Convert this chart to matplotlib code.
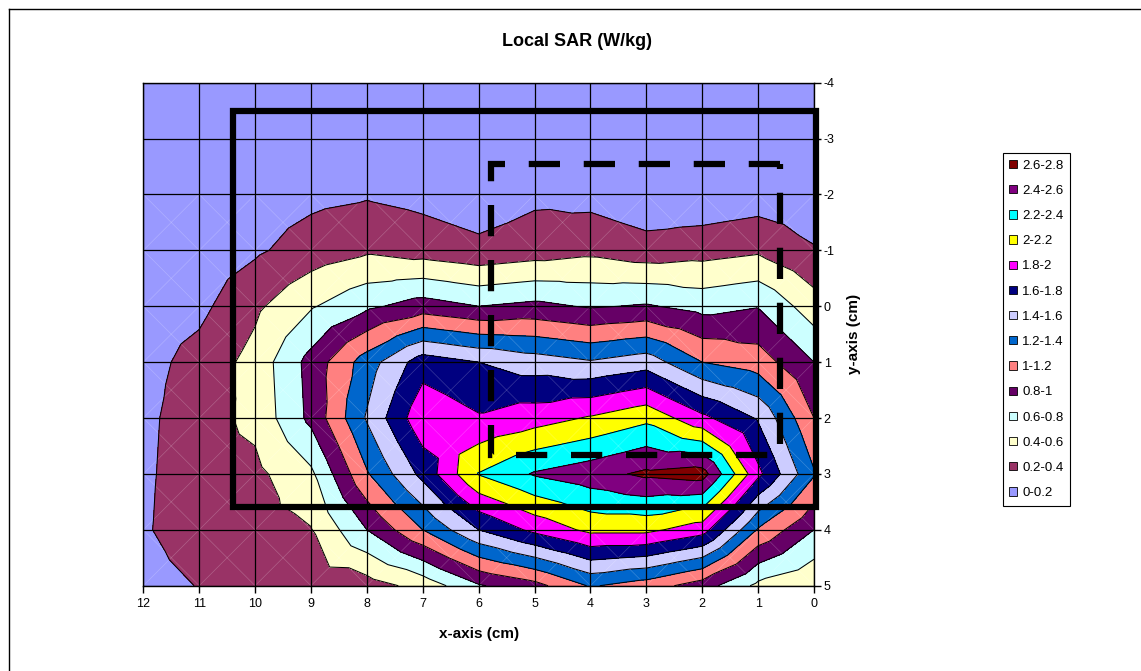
import matplotlib
matplotlib.use("Agg")
import matplotlib.pyplot as plt
import matplotlib.tri as mtri
import numpy as np
from matplotlib.patches import Rectangle, Patch
from matplotlib.collections import LineCollection
from matplotlib.lines import Line2D

plt.rcParams['font.family'] = ['Liberation Sans', 'DejaVu Sans']
plt.rcParams['axes.unicode_minus'] = False

# measured SAR values (W/kg); rows are y = -4..5 cm, columns are x = 0..12 cm
x_cm = np.arange(0, 13)
y_cm = np.arange(-4, 6)
sar = np.array([
    [0.03, 0.03, 0.03, 0.03, 0.04, 0.04, 0.03, 0.04, 0.04, 0.03, 0.03, 0.03, 0.02],
    [0.04, 0.05, 0.04, 0.04, 0.06, 0.07, 0.05, 0.07, 0.08, 0.07, 0.06, 0.05, 0.04],
    [0.07, 0.09, 0.05, 0.05, 0.13, 0.16, 0.08, 0.14, 0.18, 0.15, 0.10, 0.07, 0.06],
    [0.215, 0.37, 0.32, 0.28, 0.35, 0.30, 0.25, 0.31, 0.37, 0.29, 0.17, 0.10, 0.08],
    [0.49, 0.79, 0.73, 0.82, 0.78, 0.85, 0.80, 0.89, 0.76, 0.58, 0.36, 0.15, 0.10],
    [0.80, 1.10, 1.20, 1.51, 1.42, 1.50, 1.60, 1.71, 1.30, 0.87, 0.47, 0.27, 0.13],
    [1.00, 1.58, 1.85, 2.15, 2.02, 1.91, 1.82, 1.95, 1.42, 0.85, 0.45, 0.32, 0.15],
    [1.22, 1.85, 2.69, 2.64, 2.52, 2.42, 2.21, 1.66, 1.18, 0.56, 0.35, 0.33, 0.16],
    [0.80, 1.18, 1.89, 2.05, 2.05, 1.85, 1.60, 1.20, 0.80, 0.39, 0.33, 0.35, 0.17],
    [0.42, 0.55, 0.90, 1.10, 1.22, 0.93, 0.78, 0.47, 0.31, 0.30, 0.28, 0.21, 0.10],
])

levels = np.round(np.arange(0, 2.81, 0.2), 1)
band_colors = ['#9999FF', '#993366', '#FFFFCC', '#CCFFFF', '#660066', '#FF8080',
               '#0066CC', '#CCCCFF', '#000080', '#FF00FF', '#FFFF00', '#00FFFF',
               '#800080', '#800000']
band_labels = [f"{levels[i]:g}-{levels[i + 1]:g}" for i in range(len(band_colors))]

# overlay outlines (cm)
solid_box = (-0.03, -3.5, 10.39, 3.6)    # x0, y0, x1, y1
dashed_box = (0.61, -2.55, 5.78, 2.66)

# Excel-like triangulation: each cell split into 4 triangles around its centre
nx, ny = len(x_cm), len(y_cm)
gx, gy = np.meshgrid(x_cm, y_cm)
px = list(gx.ravel().astype(float))
py = list(gy.ravel().astype(float))
pz = list(sar.ravel())
tris = []
diag_segs = []
for j in range(ny - 1):
    for i in range(nx - 1):
        a = j * nx + i
        b = a + 1
        d = a + nx
        c = d + 1
        corners = [sar[j, i], sar[j, i + 1], sar[j + 1, i + 1], sar[j + 1, i]]
        m = len(px)
        px.append(x_cm[i] + 0.5)
        py.append(y_cm[j] + 0.5)
        pz.append(np.mean(corners))
        tris += [[a, b, m], [b, c, m], [c, d, m], [d, a, m]]
        if y_cm[j] >= -2:
            diag_segs.append([(x_cm[i], y_cm[j]), (x_cm[i + 1], y_cm[j + 1])])
            diag_segs.append([(x_cm[i + 1], y_cm[j]), (x_cm[i], y_cm[j + 1])])
triang = mtri.Triangulation(np.array(px), np.array(py), np.array(tris))
pz = np.array(pz)

W, H = 1141, 671
fig = plt.figure(figsize=(W / 100, H / 100), dpi=100)
ax = fig.add_axes([143.3 / W, 1 - 585.7 / H, (814 - 143.3) / W, (585.7 - 82.7) / H])

ax.tricontourf(triang, pz, levels=levels, colors=band_colors, zorder=1)
ax.add_collection(LineCollection(diag_segs, colors='white', linewidths=0.5,
                                 alpha=0.22, zorder=1.5))
ax.tricontour(triang, pz, levels=levels[1:-1], colors='black', linewidths=0.75, zorder=2)

ax.set_xlim(12, 0)
ax.set_ylim(5, -4)
ax.set_xticks(x_cm)
ax.set_yticks(y_cm)
ax.set_axisbelow(False)
ax.grid(True, color='black', linewidth=0.9)
ax.yaxis.tick_right()
ax.yaxis.set_label_position('right')
ax.tick_params(axis='x', direction='out', length=5, pad=4, labelsize=9, width=1)
ax.tick_params(axis='y', direction='out', length=5, pad=2, labelsize=9, width=1)
for s in ax.spines.values():
    s.set_linewidth(1.0)

ax.add_patch(Rectangle((solid_box[0], solid_box[1]), solid_box[2] - solid_box[0],
                       solid_box[3] - solid_box[1], fill=False, edgecolor='black',
                       linewidth=4.5, zorder=5, clip_on=False, joinstyle='miter'))
ax.add_patch(Rectangle((dashed_box[0], dashed_box[1]), dashed_box[2] - dashed_box[0],
                       dashed_box[3] - dashed_box[1], fill=False, edgecolor='black',
                       linewidth=4.5, linestyle=(0, (5, 3.8)), zorder=5, clip_on=False,
                       joinstyle='miter'))

ax.set_xlabel('x-axis (cm)', fontsize=11, fontweight='bold', labelpad=12)
ax.set_ylabel('y-axis (cm)', fontsize=11, fontweight='bold', labelpad=9)
fig.text(577 / W, 1 - 41 / H, 'Local SAR (W/kg)', fontsize=13, fontweight='bold',
         ha='center', va='center')

handles = [Patch(facecolor=c, edgecolor='black', linewidth=0.6) for c in band_colors[::-1]]
leg = fig.legend(handles, band_labels[::-1], loc='upper left',
                 bbox_to_anchor=(1002.5 / W, 1 - 153 / H), fontsize=9.5,
                 frameon=True, fancybox=False, edgecolor='black', framealpha=1,
                 handlelength=0.6, handleheight=0.6, handletextpad=0.4,
                 labelspacing=1.0, borderpad=0.5, borderaxespad=0)
leg.get_frame().set_linewidth(0.8)

# outer chart border
fig.add_artist(Line2D([9 / W, 9 / W], [0, 1 - 9 / H], color='black', lw=1,
                      transform=fig.transFigure))
fig.add_artist(Line2D([9 / W, 1], [1 - 9 / H, 1 - 9 / H], color='black', lw=1,
                      transform=fig.transFigure))

fig.savefig('out.png', dpi=100)
